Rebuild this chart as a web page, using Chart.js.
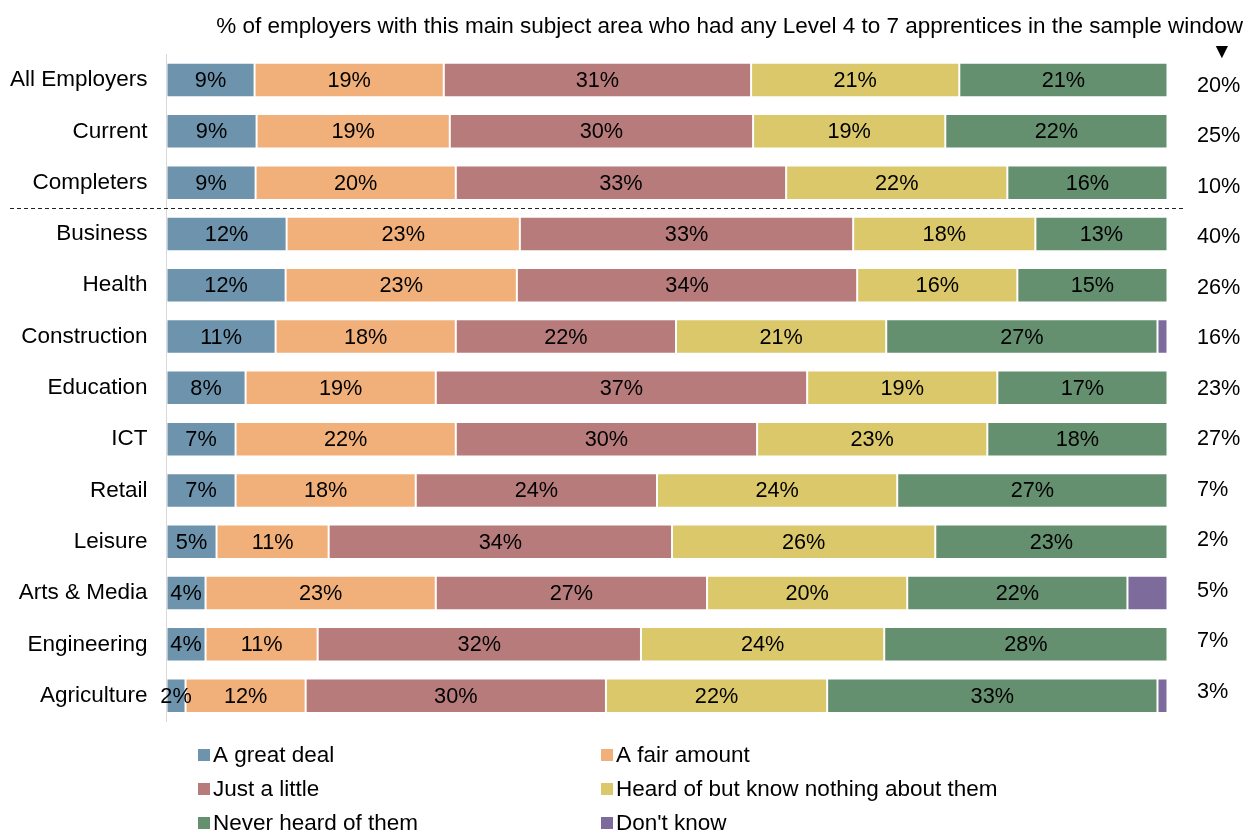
<!DOCTYPE html>
<html>
<head>
<meta charset="utf-8">
<script src="https://cdn.jsdelivr.net/npm/chart.js@4.4.1/dist/chart.umd.min.js"></script>
<style>
  html, body { margin: 0; padding: 0; background: #fff; }
  #wrapper { width: 1245px; height: 832px; }
</style>
</head>
<body>
<div id="wrapper"><canvas id="chartjs"></canvas></div>
<script>
const categories = ['All Employers', 'Current', 'Completers', 'Business', 'Health', 'Construction',
  'Education', 'ICT', 'Retail', 'Leisure', 'Arts & Media', 'Engineering', 'Agriculture'];

// share of employers (%) by how much they know
const greatDeal  = [8.8, 9.0, 8.9, 12.0, 11.9, 10.9, 7.9, 6.9, 6.9, 5.0, 3.9, 3.9, 1.9];
const fairAmount = [18.9, 19.3, 20.0, 23.3, 23.1, 18.0, 19.0, 22.0, 18.0, 11.2, 23.0, 11.2, 12.0];
const justLittle = [30.7, 30.3, 33.0, 33.3, 34.0, 22.0, 37.1, 30.1, 24.1, 34.3, 27.1, 32.3, 30.0];
const heardOf    = [20.8, 19.2, 22.1, 18.2, 16.0, 21.0, 19.0, 23.0, 24.0, 26.3, 20.0, 24.3, 22.1];
const neverHeard = [20.8, 22.2, 16.0, 13.2, 15.0, 27.1, 17.0, 18.0, 27.0, 23.2, 22.0, 28.3, 33.0];
const dontKnow   = [0, 0, 0, 0, 0, 1.0, 0, 0, 0, 0, 4.0, 0, 1.0];

// % with any Level 4 to 7 apprentices
const apprenticeShare = [20, 25, 10, 40, 26, 16, 23, 27, 7, 2, 5, 7, 3];

const seriesNames = ['A great deal', 'A fair amount', 'Just a little',
  'Heard of but know nothing about them', 'Never heard of them', "Don't know"];
const seriesColors = ['#6d94ac', '#f1b07a', '#b87b7c', '#dbc86a', '#649070', '#7d6b9b'];

const FONT = '"Liberation Sans", Arial, sans-serif';

// numbers inside each bar segment
const segmentLabels = {
  id: 'segmentLabels',
  afterDatasetsDraw(chart) {
    const ctx = chart.ctx;
    ctx.save();
    ctx.font = `21.7px ${FONT}`;
    ctx.fillStyle = '#000';
    ctx.textAlign = 'center';
    ctx.textBaseline = 'middle';
    chart.data.datasets.forEach((ds, di) => {
      if (ds.noLabels) return;
      chart.getDatasetMeta(di).data.forEach((bar, i) => {
        const v = ds.data[i];
        if (!v) return;
        ctx.fillText(Math.round(v) + '%', (bar.x + bar.base) / 2, bar.y + 1);
      });
    });
    ctx.restore();
  }
};

// dashed separator, right-hand column, header and legend
const extras = {
  id: 'extras',
  afterDraw(chart) {
    const ctx = chart.ctx;
    const y = chart.scales.y;
    ctx.save();

    // separator between totals and subject areas
    const sepY = Math.round((y.getPixelForValue(2) + y.getPixelForValue(3)) / 2) + 0.5;
    ctx.strokeStyle = '#222';
    ctx.lineWidth = 1;
    ctx.setLineDash([4, 3]);
    ctx.beginPath();
    ctx.moveTo(10, sepY);
    ctx.lineTo(1183, sepY);
    ctx.stroke();
    ctx.setLineDash([]);

    // header
    ctx.fillStyle = '#000';
    ctx.font = `22.5px ${FONT}`;
    ctx.textAlign = 'right';
    ctx.textBaseline = 'middle';
    ctx.fillText('% of employers with this main subject area who had any Level 4 to 7 apprentices in the sample window', 1243, 27);
    ctx.textAlign = 'center';
    ctx.font = `21px ${FONT}, "DejaVu Sans"`;
    ctx.fillText('\u25BC', 1222, 52);

    // apprentice share column
    ctx.font = `21.7px ${FONT}`;
    ctx.textAlign = 'left';
    apprenticeShare.forEach((v, i) => {
      ctx.fillText(v + '%', 1197, y.getPixelForValue(i) + 6 - i * 0.83);
    });

    // legend, two columns
    ctx.font = `22.5px ${FONT}`;
    seriesNames.forEach((name, i) => {
      const col = i % 2, row = Math.floor(i / 2);
      const lx = col === 0 ? 198 : 601;
      const ly = 755 + row * 34;
      ctx.fillStyle = seriesColors[i];
      ctx.fillRect(lx, ly - 6, 12, 12);
      ctx.fillStyle = '#000';
      ctx.fillText(name, lx + 15, ly + 1);
    });
    ctx.restore();
  }
};

const datasets = [greatDeal, fairAmount, justLittle, heardOf, neverHeard, dontKnow].map((vals, i) => ({
  label: seriesNames[i],
  data: vals,
  backgroundColor: seriesColors[i],
  borderColor: 'rgba(255,255,255,0.55)',
  borderWidth: 1,
  borderSkipped: false,
  noLabels: i === 5
}));

new Chart(document.getElementById('chartjs').getContext('2d'), {
  type: 'bar',
  data: { labels: categories, datasets: datasets },
  options: {
    indexAxis: 'y',
    responsive: true,
    maintainAspectRatio: false,
    animation: false,
    categoryPercentage: 1,
    barPercentage: 0.672,
    layout: { padding: { left: 0, right: 77.5, top: 54.4, bottom: 110.7 } },
    plugins: {
      legend: { display: false },
      tooltip: { enabled: false }
    },
    scales: {
      x: {
        stacked: true,
        display: false,
        min: 0,
        max: 100
      },
      y: {
        stacked: true,
        afterFit(scale) { scale.width = 166.5; },
        grid: { display: false, drawTicks: false },
        border: { display: true, color: '#d9d9d9', width: 1 },
        ticks: {
          color: '#000',
          padding: 19,
          font: { family: FONT, size: 22.5 }
        }
      }
    }
  },
  plugins: [segmentLabels, extras]
});
</script>
</body>
</html>
